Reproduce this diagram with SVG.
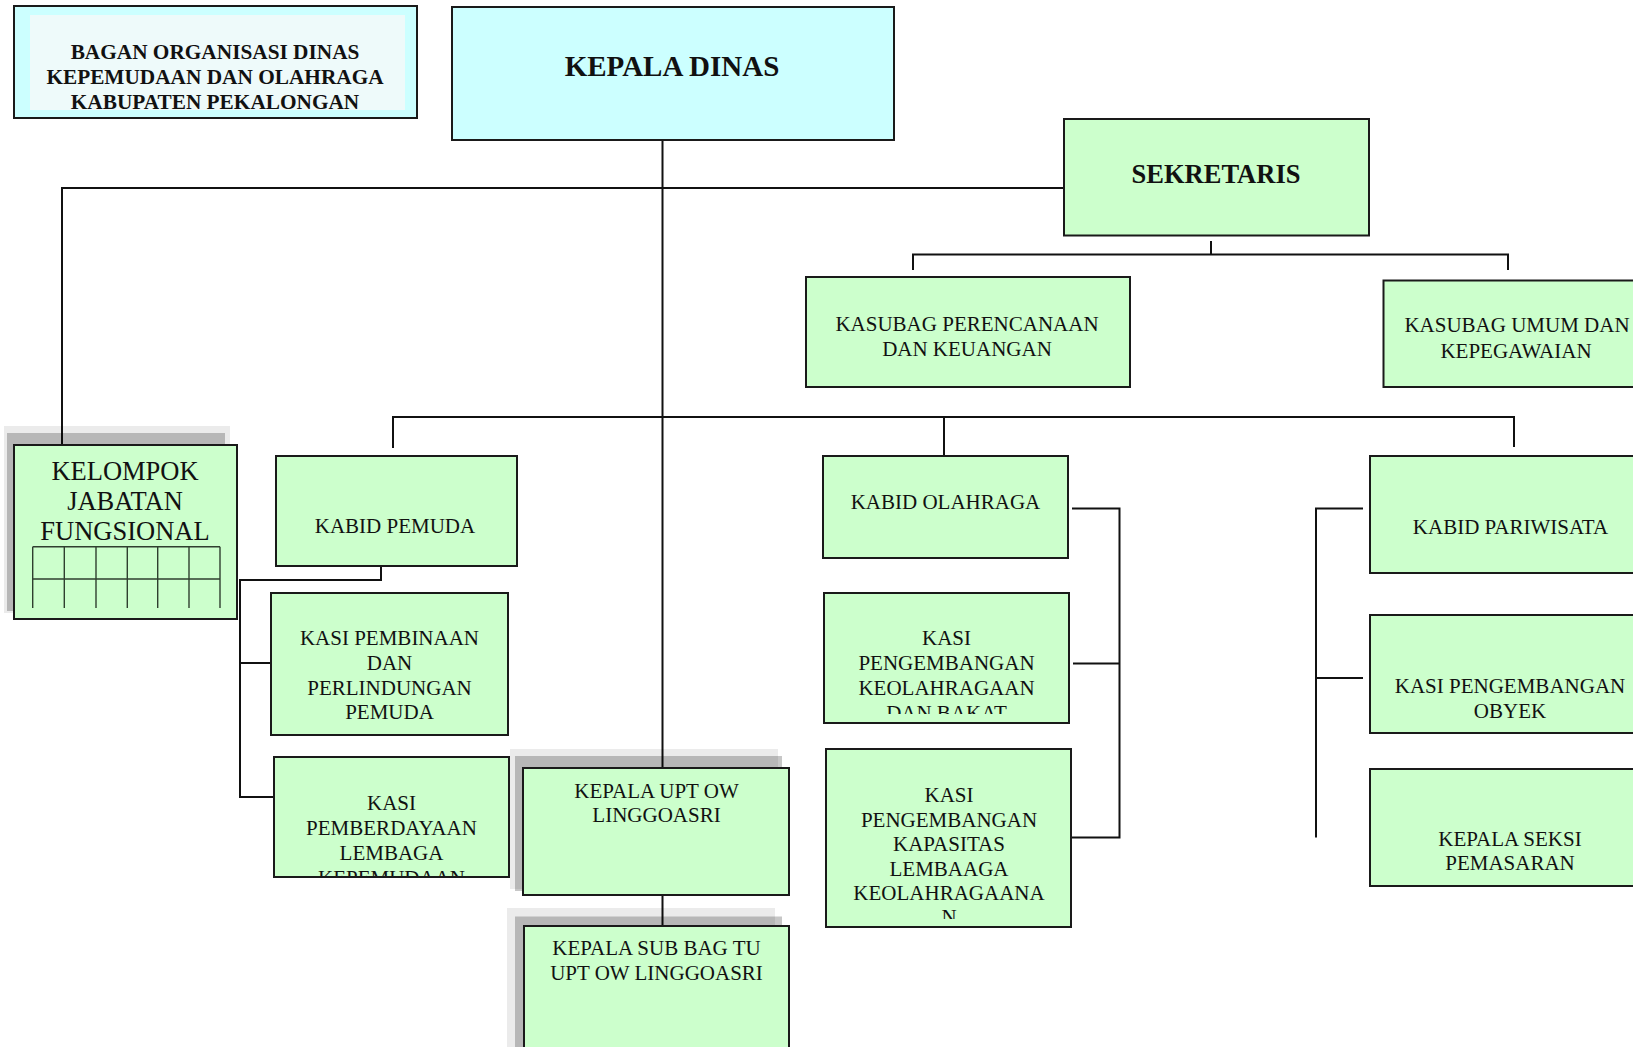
<svg xmlns="http://www.w3.org/2000/svg" width="1633" height="1047" viewBox="0 0 1633 1047">
<style>
.box{fill:#ccffcc;stroke:#1a1a1a;stroke-width:2}
.cyan{fill:#ccffff;stroke:#1a1a1a;stroke-width:2}
.t{font-family:"Liberation Serif","Times New Roman",serif;font-size:21px;fill:#111;text-anchor:middle}
.b{font-weight:bold}
.c{fill:none;stroke:#111;stroke-width:2}
.g{fill:none;stroke:#2f3f2f;stroke-width:1.4}
.sh1{fill:#000;opacity:0.08}
.sh2{fill:#000;opacity:0.22}
</style>
<defs>
<clipPath id="cp1"><rect x="274" y="757" width="235" height="120"/></clipPath>
<clipPath id="cp2"><rect x="824" y="593" width="245" height="121"/></clipPath>
<clipPath id="cp3"><rect x="826" y="749" width="245" height="170"/></clipPath>
</defs>
<rect width="1633" height="1047" fill="#fff"/>

<g id="connectors">
<path class="c" d="M662.5 140V768M662.5 895V926"/>
<path class="c" d="M1064 188H62V445"/>
<path class="c" d="M1211 241V254.5M913 270V254.5H1508V270"/>
<path class="c" d="M393 448V417H1514V447M944 417V456"/>
<path class="c" d="M381 553V580H240V797H274M240 663H271"/>
<path class="c" d="M1072 508.5H1119.5V837.5H1072M1073 663.5H1119.5"/>
<path class="c" d="M1363 508.5H1316V837.5M1316 678H1363"/>
</g>

<g id="title">
<rect class="cyan" x="14" y="6" width="403" height="112"/>
<rect x="30" y="15" width="375" height="95" fill="#eefafa"/>
<text class="t b" x="215" y="59" style="font-size:21.3px">BAGAN ORGANISASI DINAS</text>
<text class="t b" x="215" y="84" style="font-size:21.3px">KEPEMUDAAN DAN OLAHRAGA</text>
<text class="t b" x="215" y="108.5" style="font-size:21.3px">KABUPATEN PEKALONGAN</text>
</g>

<g id="kepala-dinas">
<rect class="cyan" x="452" y="7" width="442" height="133"/>
<text class="t b" x="672" y="76" style="font-size:29px">KEPALA DINAS</text>
</g>

<g id="sekretaris">
<rect class="box" x="1064" y="119" width="305" height="116.5"/>
<text class="t b" x="1216" y="182.5" style="font-size:26.5px">SEKRETARIS</text>
</g>

<g id="kasubag-perencanaan">
<rect class="box" x="806" y="277" width="324" height="110"/>
<text class="t" x="967" y="331">KASUBAG PERENCANAAN</text>
<text class="t" x="967" y="356">DAN KEUANGAN</text>
</g>

<g id="kasubag-umum">
<rect class="box" x="1383.5" y="280.5" width="270" height="106.5"/>
<text class="t" x="1517" y="332">KASUBAG UMUM DAN</text>
<text class="t" x="1516" y="358">KEPEGAWAIAN</text>
</g>

<g id="kelompok-jabatan-fungsional">
<rect class="sh1" x="4" y="426" width="226" height="187"/>
<rect class="sh2" x="7" y="433" width="218" height="178"/>
<rect class="box" x="14" y="445" width="223" height="174"/>
<text class="t" x="125" y="480" style="font-size:26.5px">KELOMPOK</text>
<text class="t" x="125" y="510" style="font-size:26.5px">JABATAN</text>
<text class="t" x="125" y="540" style="font-size:26.5px">FUNGSIONAL</text>
<path class="g" d="M32.7 546.7H220M32.7 579H220M32.7 546.7V608M64.3 546.7V608M96 546.7V608M127.3 546.7V608M157.7 546.7V608M189 546.7V608M220 546.7V608"/>
</g>

<g id="kabid-pemuda">
<rect class="box" x="276" y="456" width="241" height="110"/>
<text class="t" x="395" y="533">KABID PEMUDA</text>
</g>

<g id="kasi-pembinaan">
<rect class="box" x="271" y="593" width="237" height="142"/>
<text class="t" x="389.5" y="645">KASI PEMBINAAN</text>
<text class="t" x="389.5" y="670">DAN</text>
<text class="t" x="389.5" y="695">PERLINDUNGAN</text>
<text class="t" x="389.5" y="718.5">PEMUDA</text>
</g>

<g id="kasi-pemberdayaan">
<rect class="box" x="274" y="757" width="235" height="120"/>
<g clip-path="url(#cp1)">
<text class="t" x="391.5" y="810">KASI</text>
<text class="t" x="391.5" y="835">PEMBERDAYAAN</text>
<text class="t" x="391.5" y="860">LEMBAGA</text>
<text class="t" x="391.5" y="885">KEPEMUDAAN</text>
</g>
<rect x="274" y="757" width="235" height="120" fill="none" stroke="#1a1a1a" stroke-width="2"/>
</g>

<g id="kepala-upt">
<rect class="sh1" x="510" y="749" width="268" height="140"/>
<rect class="sh2" x="515" y="756" width="267" height="135"/>
<rect class="box" x="523" y="768" width="266" height="127"/>
<text class="t" x="656.5" y="797.5">KEPALA UPT OW</text>
<text class="t" x="656.5" y="822">LINGGOASRI</text>
</g>

<g id="kepala-sub-bag-tu">
<rect class="sh1" x="507" y="908" width="268" height="150"/>
<rect class="sh2" x="515" y="916.5" width="267" height="140"/>
<rect class="box" x="524" y="926" width="265" height="135"/>
<text class="t" x="656.5" y="955">KEPALA SUB BAG TU</text>
<text class="t" x="656.5" y="979.5">UPT OW LINGGOASRI</text>
</g>

<g id="kabid-olahraga">
<rect class="box" x="823" y="456" width="245" height="102"/>
<text class="t" x="945.5" y="509">KABID OLAHRAGA</text>
</g>

<g id="kasi-keolahragaan">
<rect class="box" x="824" y="593" width="245" height="130"/>
<g clip-path="url(#cp2)">
<text class="t" x="946.5" y="645">KASI</text>
<text class="t" x="946.5" y="670">PENGEMBANGAN</text>
<text class="t" x="946.5" y="695">KEOLAHRAGAAN</text>
<text class="t" x="946.5" y="720">DAN BAKAT</text>
</g>
</g>

<g id="kasi-kapasitas">
<rect class="box" x="826" y="749" width="245" height="178"/>
<g clip-path="url(#cp3)">
<text class="t" x="949" y="802">KASI</text>
<text class="t" x="949" y="827">PENGEMBANGAN</text>
<text class="t" x="949" y="851">KAPASITAS</text>
<text class="t" x="949" y="876">LEMBAAGA</text>
<text class="t" x="949" y="900">KEOLAHRAGAANA</text>
<text class="t" x="949" y="924">N</text>
</g>
</g>

<g id="kabid-pariwisata">
<rect class="box" x="1370" y="456" width="280" height="117"/>
<text class="t" x="1510.5" y="534">KABID PARIWISATA</text>
</g>

<g id="kasi-obyek">
<rect class="box" x="1370" y="615" width="280" height="118"/>
<text class="t" x="1510" y="692.5">KASI PENGEMBANGAN</text>
<text class="t" x="1510" y="717.5">OBYEK</text>
</g>

<g id="kepala-seksi-pemasaran">
<rect class="box" x="1370" y="769" width="280" height="117"/>
<text class="t" x="1510" y="846">KEPALA SEKSI</text>
<text class="t" x="1510" y="870">PEMASARAN</text>
</g>
</svg>
